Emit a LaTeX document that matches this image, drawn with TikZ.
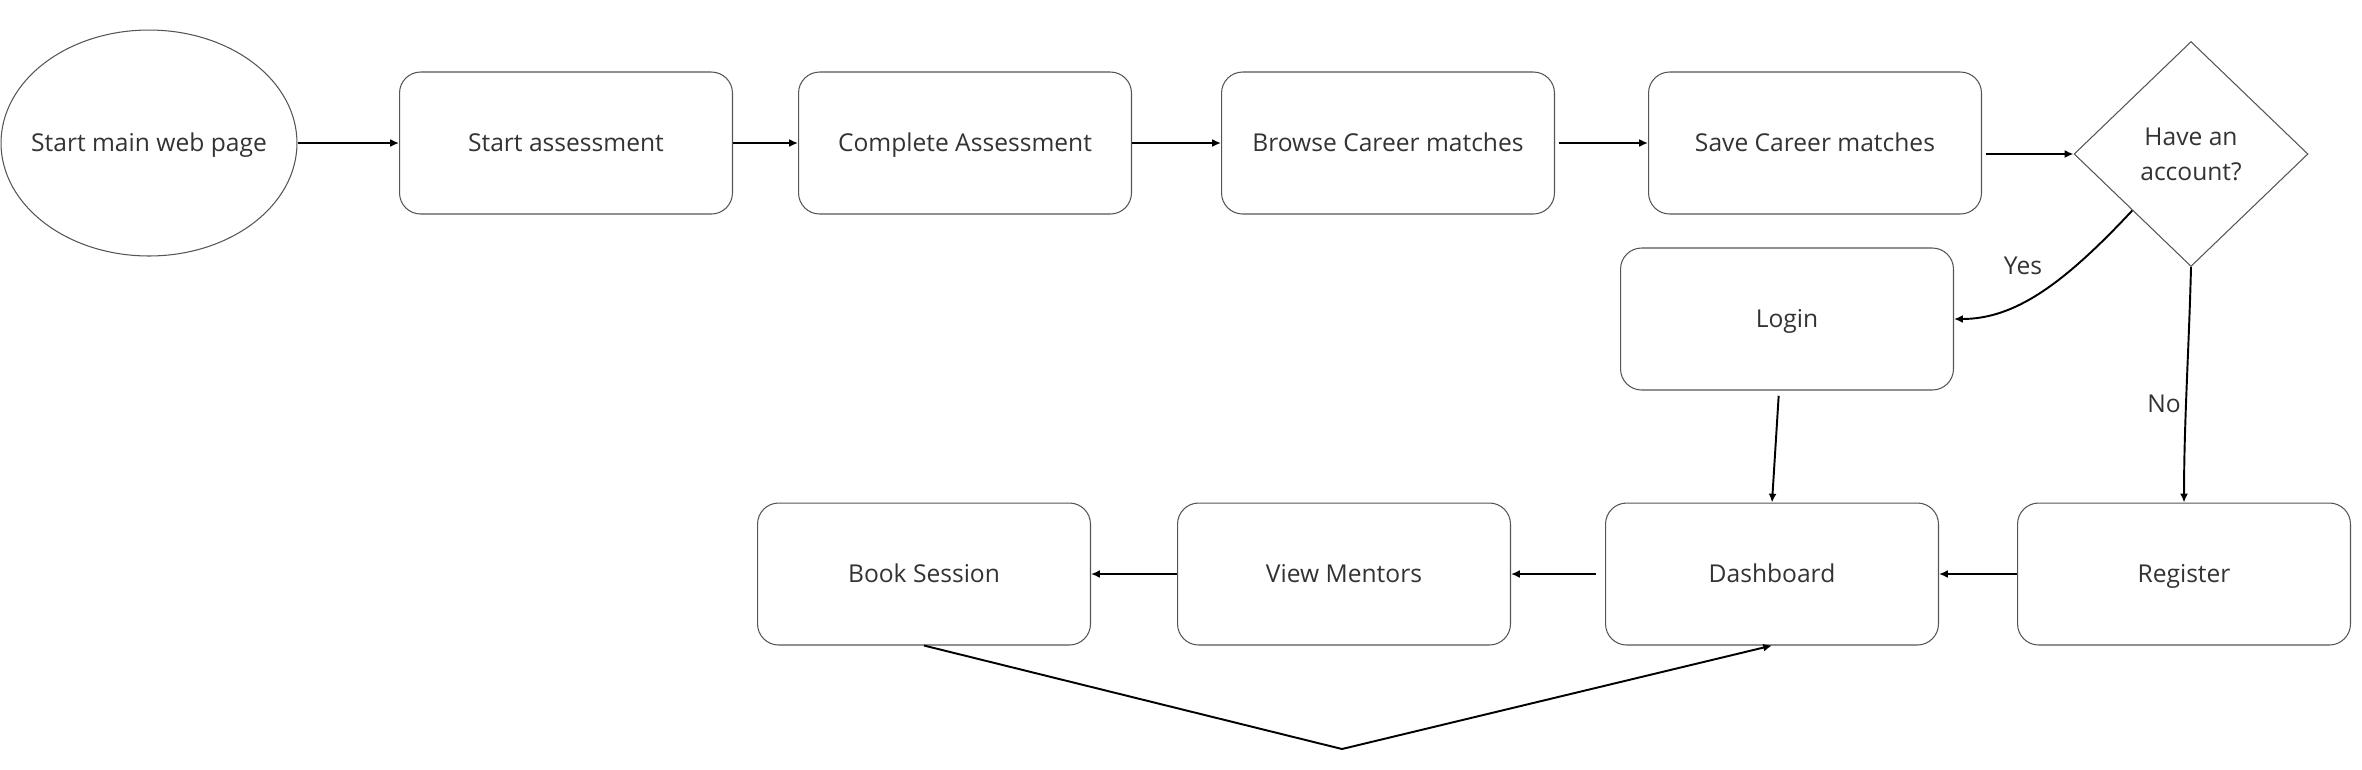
\documentclass[tikz,border=0pt]{standalone}
\usepackage{fontspec}
\setmainfont{Open Sans}
\usetikzlibrary{shapes.geometric,arrows.meta}
\definecolor{flowink}{HTML}{333333}
\definecolor{flowedge}{HTML}{555555}
\tikzset{
  flow step/.style={draw=flowedge, line width=0.6pt, rounded corners=12pt,
    minimum width=6.66cm, minimum height=2.84cm, text=flowink,
    text height=10pt, text depth=0pt,
    font=\fontsize{14}{17}\selectfont},
  flow start/.style={ellipse, draw=flowedge, line width=0.6pt,
    minimum width=5.92cm, minimum height=4.52cm, inner xsep=-0.4cm,
    inner ysep=0pt, text height=10pt, text depth=0pt,
    text=flowink, font=\fontsize{14}{17}\selectfont},
  flow choice/.style={diamond, draw=flowedge, line width=0.6pt,
    minimum width=4.68cm, minimum height=4.5cm, inner sep=0pt,
    align=center, text=flowink, font=\fontsize{14}{20}\selectfont},
  flow arrow/.style={draw=black, line width=1.1pt,
    -{Latex[length=5pt,width=4.5pt]}},
  flow line/.style={draw=black, line width=1.1pt},
  branch label/.style={font=\fontsize{14}{17}\selectfont, text=flowink},
}

\begin{document}
\begin{tikzpicture}[x=0.02cm, y=-0.02cm]
  \useasboundingbox (0,0) rectangle (2362,769);

  % top row
  \node[flow start] (home) at (149,143) {Start main web page};
  \node[flow step] (start) at (566,143) {Start assessment};
  \node[flow step] (complete) at (965,143) {Complete Assessment};
  \node[flow step] (browse) at (1388,143) {Browse Career matches};
  \node[flow step] (save) at (1815,143) {Save Career matches};
  \node[flow choice] (account) at (2191,154) {Have an\\account?};

  % middle and bottom rows
  \node[flow step] (login) at (1787,319) {Login};
  \node[flow step] (register) at (2184,574) {Register};
  \node[flow step] (dash) at (1772,574) {Dashboard};
  \node[flow step] (mentors) at (1344,574) {View Mentors};
  \node[flow step] (book) at (924,574) {Book Session};
  \coordinate (dip) at (1342,749);

  \draw[flow arrow] (home) -- (start);
  \draw[flow arrow] (start) -- (complete);
  \draw[flow arrow] (complete) -- (browse);
  \draw[flow arrow, shorten <=2pt] (browse) -- (save);
  \draw[flow arrow, shorten <=2pt] (save.east |- account.west) -- (account.west);

  \draw[flow arrow] (account.south west) .. controls +(-70,75) and +(60,0) .. (login.east);
  \node[branch label] (yes) at (2023,266) {Yes};
  \draw[flow arrow] (account.south) .. controls +(-2,80) and +(0,-80) .. (register.north);
  \node[branch label] (no) at (2164,404) {No};

  \draw[flow arrow, shorten <=3pt] ([xshift=-0.16cm]login.south) -- (dash.north);
  \draw[flow arrow] (register) -- (dash);
  \draw[flow arrow, shorten <=5pt] (dash) -- (mentors);
  \draw[flow arrow] (mentors) -- (book);
  \draw[flow line] (book.south) -- (dip);
  \draw[flow arrow] (dip) -- (dash.south);
\end{tikzpicture}
\end{document}
